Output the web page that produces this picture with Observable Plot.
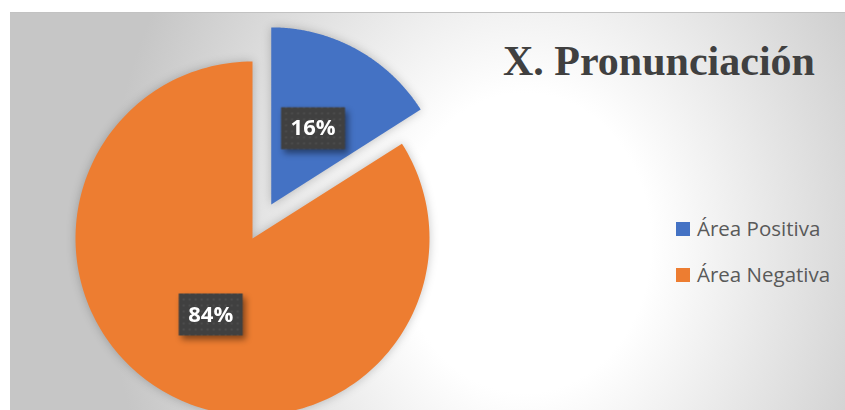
<!DOCTYPE html>
<html>
<head>
<meta charset="utf-8">
<script src="https://cdn.jsdelivr.net/npm/d3@7"></script>
<script src="https://cdn.jsdelivr.net/npm/@observablehq/plot@0.6"></script>
<style>
  html, body { margin: 0; padding: 0; background: #fff; }
  #wrap { position: relative; width: 845px; height: 410px; overflow: hidden; background: #fff; }
  #panel { position: absolute; left: 10px; top: 12px; width: 900px; height: 460px;
    border-top: 1.5px solid #c2c2c2;
    background: radial-gradient(ellipse 420px 500px at 515px 230px, #ffffff 0%, #ffffff 30%, #c6c6c6 100%); }
  #chart { position: absolute; left: 0; top: 0; }
  #title { position: absolute; left: 503px; top: 40px; font-family: "Liberation Serif", serif; font-weight: bold;
    font-size: 42px; line-height: 42px; color: #404040; white-space: nowrap; }
  .lg { position: absolute; left: 676px; font-family: "Open Sans", sans-serif; font-size: 20.5px; line-height: 20px; color: #595959; white-space: nowrap; }
  .lg .sw { position: absolute; left: 0; width: 14px; height: 14px; }
  .lg .tx { position: absolute; left: 21px; }
  g[aria-label="line"] { filter: drop-shadow(0 0 5px rgba(0,0,0,0.22)); }
  g[aria-label="dot"] { filter: drop-shadow(3px 4px 3px rgba(0,0,0,0.45)); }
</style>
</head>
<body>
<div id="wrap">
  <div id="panel"></div>
  <div id="chart"></div>
  <div id="title"></div>
  <div id="legend"></div>
</div>
<script>
// ---- data ----
const titleText = "X. Pronunciación";
const categories = ["Área Positiva", "Área Negativa"];
const values = [16, 84];
const colors = ["#4472C4", "#ED7D31"];
const explode = [0.22, 0];

// ---- layout (pixels) ----
const W = 845, H = 410, CX = 252, CY = 238, R = 177;

const total = d3.sum(values);
const arcs = d3.pie().sort(null).value(d => d)(values);

const slicePts = [];
const labels = [];
arcs.forEach((a, i) => {
  const mid = (a.startAngle + a.endAngle) / 2;
  const ox = explode[i] * Math.sin(mid), oy = explode[i] * Math.cos(mid);
  slicePts.push({cat: categories[i], x: ox, y: oy});
  const n = 180;
  for (let k = 0; k <= n; k++) {
    const t = a.startAngle + (a.endAngle - a.startAngle) * k / n;
    slicePts.push({cat: categories[i], x: ox + Math.sin(t), y: oy + Math.cos(t)});
  }
  labels.push({
    cat: categories[i],
    x: ox + 0.49 * Math.sin(mid),
    y: oy + 0.49 * Math.cos(mid),
    label: Math.round(values[i] / total * 100) + "%"
  });
});

const box = { draw(ctx) { ctx.rect(-32, -21, 64, 42); } };

const chart = Plot.plot({
  width: W, height: H, margin: 0,
  x: {domain: [-1, 1], range: [CX - R, CX + R], axis: null},
  y: {domain: [-1, 1], range: [CY + R, CY - R], axis: null},
  color: {domain: categories, range: colors},
  style: {background: "transparent", overflow: "visible"},
  marks: [
    Plot.line(slicePts, {x: "x", y: "y", z: "cat", fill: "cat", stroke: "none", curve: "linear-closed"}),
    Plot.dot(labels, {x: "x", y: "y", symbol: box, r: 1, fill: "#404040", stroke: "none"}),
    Plot.text(labels, {x: "x", y: "y", text: "label", fill: "white", fontSize: 22, fontWeight: "bold",
      fontFamily: "Open Sans, sans-serif"})
  ]
});

// dotted pattern for label boxes
const svg = d3.select(chart);
const pat = svg.insert("defs", ":first-child").append("pattern")
  .attr("id", "lblDots").attr("patternUnits", "userSpaceOnUse").attr("width", 6).attr("height", 6);
pat.append("rect").attr("width", 6).attr("height", 6).attr("fill", "#404040");
pat.append("circle").attr("cx", 3).attr("cy", 3).attr("r", 1).attr("fill", "#525252");
svg.selectAll('g[aria-label="dot"]').attr("fill", "url(#lblDots)");
svg.selectAll('g[aria-label="dot"] path').attr("fill", "url(#lblDots)");

document.getElementById("chart").appendChild(chart);
document.getElementById("title").textContent = titleText;

const lg = document.getElementById("legend");
categories.forEach((c, i) => {
  const row = document.createElement("div");
  row.className = "lg";
  row.style.top = (218 + i * 46) + "px";
  const sw = document.createElement("div");
  sw.className = "sw";
  sw.style.top = "4px";
  sw.style.background = colors[i];
  const tx = document.createElement("div");
  tx.className = "tx";
  tx.textContent = c;
  row.appendChild(sw); row.appendChild(tx);
  lg.appendChild(row);
});
</script>
</body>
</html>
